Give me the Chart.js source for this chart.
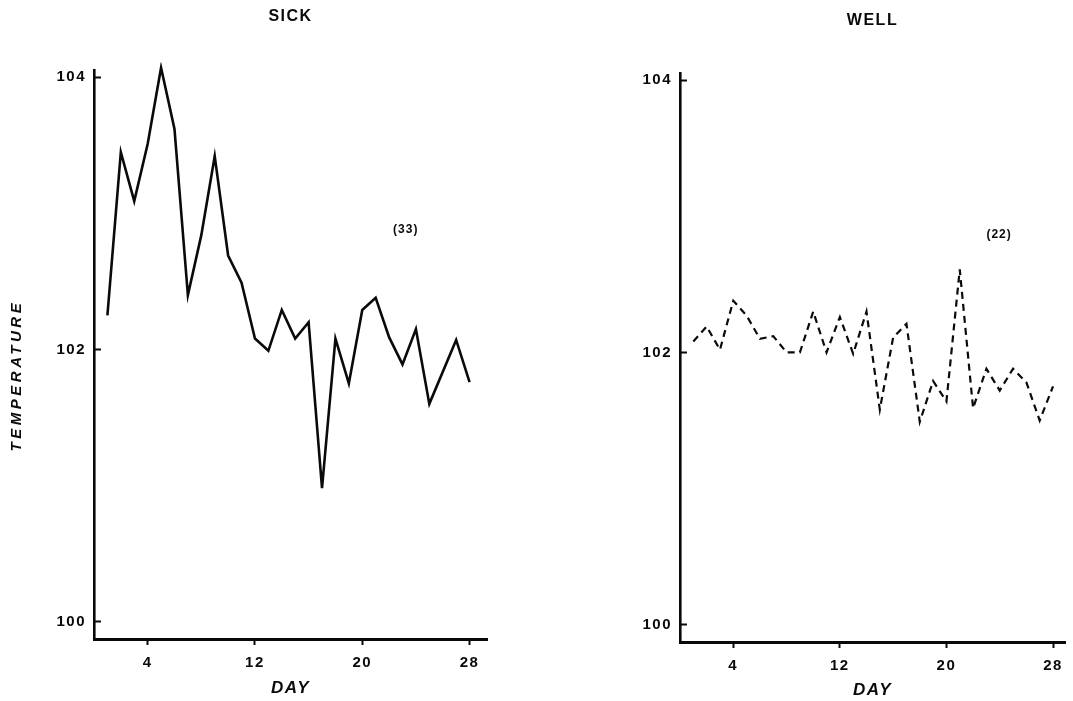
<!DOCTYPE html>
<html>
<head>
<meta charset="utf-8">
<script src="https://cdn.jsdelivr.net/npm/chart.js@4.4.1/dist/chart.umd.min.js"></script>
<style>
  body{margin:0;background:#fff;}
  .panel{position:absolute;top:0;height:701px;}
  #sick{left:0;width:536px;}
  #well{left:536px;width:537px;}
</style>
</head>
<body>
<div class="panel" id="sick"><canvas id="sickChart" width="536" height="701"></canvas></div>
<div class="panel" id="well"><canvas id="wellChart" width="537" height="701"></canvas></div>
<script>
// Daily temperature readings
const sickDays = [1,2,3,4,5,6,7,8,9,10,11,12,13,14,15,16,17,18,19,20,21,22,23,24,25,27,28];
const sickTemps = [102.25,103.45,103.09,103.51,104.07,103.62,102.40,102.84,103.42,102.69,102.49,102.08,101.99,102.29,102.08,102.20,100.98,102.08,101.75,102.29,102.38,102.09,101.89,102.15,101.60,102.07,101.76];

const wellDays = [1,2,3,4,5,6,7,8,9,10,11,12,13,14,15,16,17,18,19,20,21,22,23,24,25,26,27,28];
const wellTemps = [102.08,102.19,102.02,102.38,102.27,102.10,102.12,102.00,102.00,102.30,102.00,102.26,101.99,102.30,101.58,102.11,102.21,101.49,101.79,101.64,102.61,101.59,101.88,101.72,101.88,101.78,101.50,101.75];

const dayTicks = [4, 12, 20, 28];
const tempTicks = [100, 102, 104];

const ink = '#0a0a0a';
Chart.defaults.font.family = '"Liberation Sans", Arial, sans-serif';
Chart.defaults.font.weight = 'bold';
Chart.defaults.color = ink;

const notesPlugin = {
   id: 'notes',
   beforeDraw(chart){
      //lettering in the original is spaced out
      chart.ctx.letterSpacing = '1.5px';
   },
   afterDraw(chart, args, opts){
      const {ctx, chartArea} = chart;
      const x = chart.scales.x, y = chart.scales.y;
      ctx.save();
      ctx.fillStyle = ink;
      ctx.textAlign = 'center';
      ctx.textBaseline = 'middle';
      ctx.letterSpacing = '1px';
      ctx.font = 'bold 12px "Liberation Sans", Arial, sans-serif';
      ctx.fillText(opts.count, x.getPixelForValue(opts.countDay), y.getPixelForValue(opts.countTemp));
      if(opts.sideTitle){
         ctx.letterSpacing = '3.5px';
         ctx.translate(17, (chartArea.top + chartArea.bottom) / 2 + 21);
         ctx.rotate(-Math.PI / 2);
         ctx.font = 'italic bold 15px "Liberation Sans", Arial, sans-serif';
         ctx.fillText(opts.sideTitle, 0, 0);
      }
      ctx.restore();
      ctx.letterSpacing = '0px';
   }
};

function constructPanel(canvasId, panel){
   let points = panel.days.map((d, i) => ({x: d, y: panel.temps[i]}));

   let data = {
      datasets: [{
         data: points,
         borderColor: ink,
         borderWidth: panel.dash ? 2.2 : 2.6,
         borderDash: panel.dash || [],
         pointRadius: 0,
         tension: 0,
         fill: false,
         clip: 8
      }]
   };

   let options = {
      responsive: false,
      animation: false,
      devicePixelRatio: 1,
      layout: {padding: {left: 0, right: panel.padRight, top: 0, bottom: 0}},
      plugins: {
         legend: {display: false},
         tooltip: {enabled: false},
         title: {
            display: true,
            text: panel.title,
            fullSize: false,
            color: ink,
            font: {size: 16, weight: 'bold'},
            padding: {top: panel.titleTop, bottom: panel.titleBottom}
         },
         notes: {count: panel.count, countDay: panel.countDay, countTemp: panel.countTemp, sideTitle: panel.sideTitle}
      },
      scales: {
         x: {
            type: 'linear',
            min: 0,
            max: panel.maxDay,
            afterBuildTicks: (s) => { s.ticks = dayTicks.map(v => ({value: v})); },
            afterFit: (s) => { s.height = panel.xHeight; },
            grid: {drawOnChartArea: false, tickLength: 6, tickWidth: 2, tickColor: ink},
            border: {display: true, width: 3, color: ink},
            ticks: {padding: 9, font: {size: 15}, color: ink, maxRotation: 0, autoSkip: false},
            title: {display: true, text: 'DAY', color: ink, font: {size: 17, style: 'italic'}, padding: {top: 0, bottom: panel.dayPad}}
         },
         y: {
            min: 99.872,
            max: 104.052,
            afterBuildTicks: (s) => { s.ticks = tempTicks.map(v => ({value: v})); },
            afterFit: (s) => { s.width = panel.yWidth; },
            grid: {drawOnChartArea: false, tickLength: -7, tickWidth: 2, tickColor: ink},
            border: {display: true, width: 2.6, color: ink},
            ticks: {padding: 15, font: {size: 15}, color: ink, autoSkip: false}
         }
      }
   };

   return new Chart(document.getElementById(canvasId), {
      type: 'line',
      data: data,
      options: options,
      plugins: [notesPlugin]
   });
}

constructPanel('sickChart', {
   days: sickDays, temps: sickTemps, title: 'SICK',
   count: '(33)', countDay: 23.24, countTemp: 102.88, sideTitle: 'TEMPERATURE',
   padRight: 49, yWidth: 94, xHeight: 62, maxDay: 29.3,
   titleTop: 7, titleBottom: 44, dayPad: 2
});

constructPanel('wellChart', {
   days: wellDays, temps: wellTemps, title: 'WELL', dash: [7, 5],
   count: '(22)', countDay: 23.95, countTemp: 102.865,
   padRight: 8, yWidth: 144, xHeight: 59, maxDay: 28.9,
   titleTop: 11, titleBottom: 43, dayPad: 0
});
</script>
</body>
</html>
